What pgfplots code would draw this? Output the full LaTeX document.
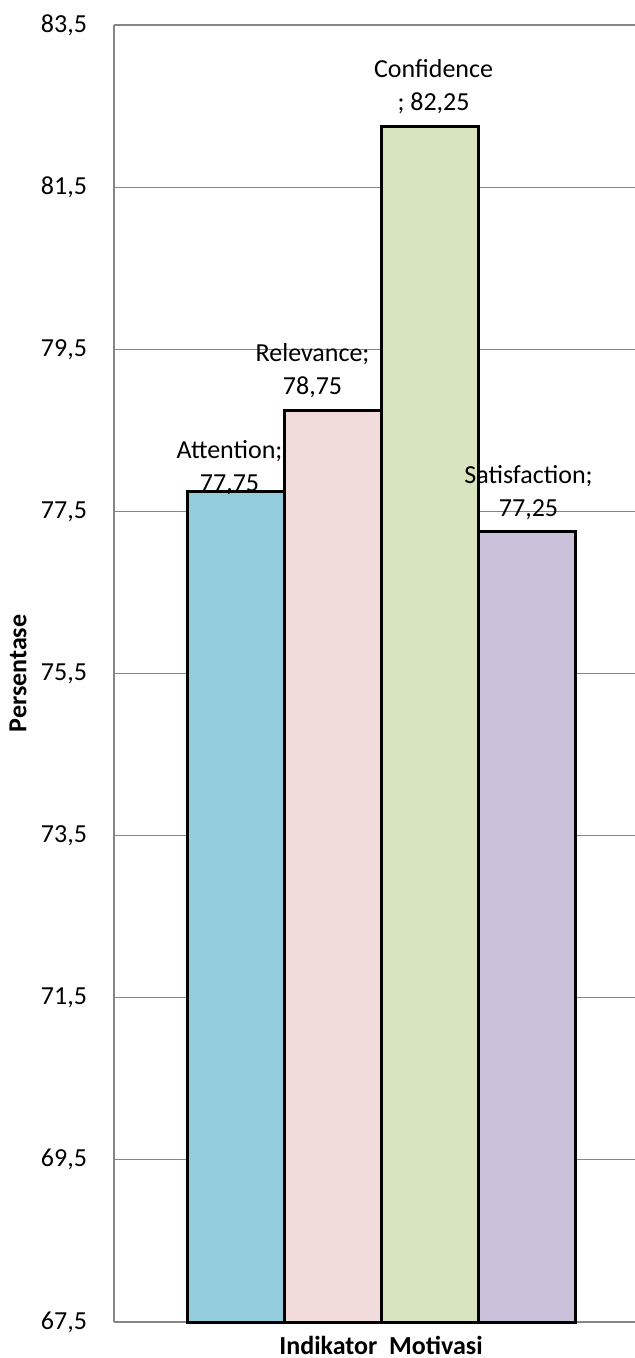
\documentclass[border=0pt]{standalone}
\usepackage{fontspec}
\setmainfont{Carlito}
\usepackage{pgfplots}
\pgfplotsset{compat=1.18}
\usetikzlibrary{calc}
\definecolor{gridgray}{RGB}{134,134,134}
\definecolor{cAtt}{RGB}{147,205,221}
\definecolor{cRel}{RGB}{242,220,219}
\definecolor{cCon}{RGB}{215,228,189}
\definecolor{cSat}{RGB}{204,193,218}
\begin{document}
\fontsize{13}{16.5}\selectfont
\begin{tikzpicture}
\begin{axis}[
    scale only axis,
    width=260.5pt, height=648.5pt,
    ybar=0pt, bar width=48.5pt,
    xmin=-1, xmax=0.951,
    ymin=67.5, ymax=83.5,
    ytick={67.5,69.5,...,83.5},
    xtick=\empty,
    axis lines=left,
    axis line style={-, draw=gridgray, line width=0.6pt},
    ymajorgrids,
    grid style={draw=gridgray, line width=0.6pt},
    major tick length=0pt,
    yticklabel style={font=\fontsize{13}{16}\selectfont, xshift=-9pt},
    /pgf/number format/.cd, fixed, fixed zerofill, precision=1, use comma, assume math mode=true,
    /pgfplots/.cd,
    ylabel={\bfseries Persentase},
    ylabel style={at={(axis description cs:0,0.5)}, anchor=center, yshift=48pt, font=\fontsize{13}{16}\selectfont},
    xlabel={\bfseries Indikator\ \ Motivasi},
    xlabel style={at={(axis description cs:0.5125,0)}, anchor=center, yshift=-11.5pt, font=\fontsize{13}{16}\selectfont},
    every node near coord/.append style={align=center, font=\fontsize{13}{16.5}\selectfont, text=black},
    clip=false,
]
\addplot[fill=cAtt, draw=black, line width=1.5pt,
    nodes near coords={Attention;\\77,75},
    every node near coord/.append style={yshift=-7pt, xshift=-3pt}]
    coordinates {(0,77.75)};
\addplot[fill=cRel, draw=black, line width=1.5pt,
    nodes near coords={Relevance;\\78,75},
    every node near coord/.append style={xshift=-10pt, yshift=1pt}]
    coordinates {(0,78.75)};
\addplot[fill=cCon, draw=black, line width=1.5pt,
    nodes near coords={Confidence\\; 82,25},
    every node near coord/.append style={xshift=2pt, yshift=1pt}]
    coordinates {(0,82.25)};
\addplot[fill=cSat, draw=black, line width=1.5pt,
    nodes near coords={Satisfaction;\\77,25},
    every node near coord/.append style={xshift=1pt, yshift=1pt}]
    coordinates {(0,77.25)};
\end{axis}
\pgfresetboundingbox
\path ($(current axis.south west)+(-57pt,-18pt)$) rectangle ($(current axis.north east)+(0,12.5pt)$);
\end{tikzpicture}
\end{document}
